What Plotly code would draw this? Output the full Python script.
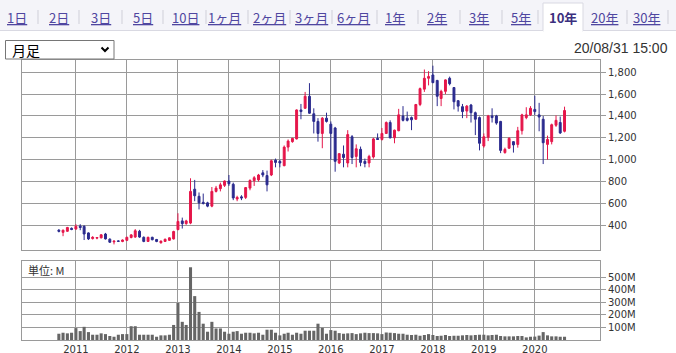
import pandas as pd
import plotly.graph_objects as go

# ---- data -------------------------------------------------------------
months = pd.date_range("2010-09-01", "2020-08-01", freq="MS")

open_ = [355, 335, 345, 372, 365, 392, 390, 330, 278, 282, 285, 320, 273, 248, 257, 252,
         262, 288, 292, 345, 290, 252, 290, 270, 240, 252, 262, 275, 360, 440, 415, 420,
         730, 665, 610, 605, 575, 710, 735, 765, 805, 775, 640, 660, 655, 740, 808, 815,
         880, 855, 860, 995, 985, 945, 1115, 1165, 1190, 1455, 1470, 1580, 1420, 1350, 1240, 1380,
         1325, 1290, 970, 1050, 970, 1210, 1030, 1095, 985, 970, 1025, 1195, 1185, 1240, 1340, 1200,
         1265, 1400, 1380, 1385, 1370, 1505, 1645, 1745, 1775, 1725, 1560, 1625, 1745, 1660, 1540, 1485,
         1445, 1500, 1430, 1385, 1125, 1205, 1400, 1400, 1350, 1065, 1105, 1165, 1140, 1265, 1385, 1410,
         1460, 1410, 1370, 1140, 1165, 1315, 1340, 1260]
high = [365, 360, 385, 380, 410, 410, 400, 335, 300, 292, 318, 330, 280, 260, 262, 270,
        295, 320, 365, 358, 298, 295, 295, 275, 260, 278, 290, 350, 510, 470, 450, 830,
        815, 700, 690, 615, 750, 760, 790, 810, 860, 790, 670, 675, 750, 820, 850, 870,
        905, 900, 1000, 1010, 1000, 1130, 1185, 1200, 1460, 1510, 1620, 1700, 1470, 1380, 1390, 1430,
        1350, 1300, 1060, 1130, 1270, 1225, 1140, 1120, 1010, 1045, 1200, 1240, 1290, 1350, 1360, 1275,
        1465, 1490, 1440, 1395, 1510, 1660, 1825, 1810, 1860, 1730, 1640, 1735, 1760, 1665, 1545, 1510,
        1500, 1510, 1440, 1395, 1240, 1410, 1470, 1410, 1355, 1110, 1205, 1170, 1300, 1420, 1480, 1490,
        1585, 1520, 1400, 1220, 1330, 1405, 1395, 1485]
low = [335, 300, 340, 355, 360, 355, 265, 265, 270, 272, 280, 270, 238, 225, 248, 245,
       255, 280, 285, 285, 245, 248, 262, 245, 232, 248, 258, 270, 355, 370, 405, 410,
       620, 545, 590, 565, 565, 700, 710, 750, 760, 630, 620, 630, 640, 720, 760, 800,
       840, 710, 850, 930, 930, 940, 1075, 1155, 1185, 1370, 1465, 1420, 1240, 1165, 1105, 1340,
       1000, 890, 960, 930, 930, 960, 930, 940, 930, 930, 1010, 1180, 1175, 1235, 1195, 1150,
       1260, 1350, 1350, 1270, 1365, 1490, 1620, 1680, 1700, 1490, 1490, 1600, 1680, 1460, 1440, 1380,
       1380, 1340, 1225, 1085, 1110, 1170, 1340, 1320, 1060, 1055, 1100, 1065, 1110, 1230, 1370, 1400,
       1410, 1260, 960, 1000, 1140, 1300, 1235, 1250]
close = [345, 355, 380, 362, 390, 380, 320, 275, 290, 288, 313, 275, 245, 255, 253, 265,
         290, 312, 350, 292, 252, 290, 268, 252, 255, 272, 285, 343, 435, 415, 440, 710,
         670, 605, 600, 575, 710, 740, 770, 805, 780, 650, 655, 650, 745, 810, 835, 860,
         860, 770, 990, 975, 970, 1115, 1170, 1195, 1455, 1440, 1580, 1425, 1350, 1240, 1380, 1350,
         1240, 985, 1055, 1020, 1230, 1020, 1100, 975, 965, 1030, 1190, 1185, 1240, 1340, 1200, 1270,
         1410, 1360, 1360, 1365, 1505, 1650, 1745, 1760, 1705, 1580, 1625, 1730, 1695, 1530, 1490, 1440,
         1490, 1430, 1370, 1150, 1210, 1400, 1385, 1335, 1085, 1095, 1195, 1135, 1265, 1410, 1410, 1470,
         1440, 1390, 1155, 1185, 1320, 1360, 1245, 1450]
volume_m = [50, 58, 53, 58, 95, 71, 105, 63, 42, 42, 53, 47, 32, 26, 42, 47,
            47, 110, 110, 42, 42, 42, 42, 26, 37, 37, 42, 120, 295, 145, 120, 580,
            350, 224, 130, 66, 145, 92, 92, 66, 50, 66, 71, 50, 58, 58, 53, 58,
            42, 82, 82, 58, 37, 50, 58, 42, 58, 50, 74, 74, 74, 130, 97, 50,
            79, 74, 55, 50, 53, 55, 47, 53, 58, 55, 55, 53, 47, 60, 58, 55,
            50, 50, 42, 40, 42, 34, 40, 47, 40, 32, 34, 40, 32, 34, 34, 37,
            40, 37, 40, 42, 42, 37, 40, 42, 32, 29, 29, 29, 32, 32, 21, 26,
            27, 35, 63, 37, 29, 29, 26, 26]

year_ticks = [f"{y}-01-01" for y in range(2011, 2021)]
year_labels = [str(y) for y in range(2011, 2021)]
price_ticks = [400, 600, 800, 1000, 1200, 1400, 1600, 1800]
vol_ticks = [100, 200, 300, 400, 500]
vol_labels = ["100M", "200M", "300M", "400M", "500M"]
tabs = ["1日", "2日", "3日", "5日", "10日", "1ヶ月", "2ヶ月", "3ヶ月", "6ヶ月",
        "1年", "2年", "3年", "5年", "10年", "20年", "30年"]
selected_tab = "10年"

# ---- geometry helpers (pixel -> paper) --------------------------------
W, H = 676, 353
L, R, T, B = 22, 76, 60, 13
PW, PH = W - L - R, H - T - B


def px(x):
    return (x - L) / PW


def py(y):
    return (H - B - y) / PH


RED = "#e5164a"
BLUE = "#2b2b8e"
GRID = "#9a9a9a"
TXT = "#333333"
FONT = "DejaVu Sans"

fig = go.Figure()
fig.add_trace(go.Candlestick(
    x=months, open=open_, high=high, low=low, close=close,
    increasing=dict(line=dict(color=RED, width=1), fillcolor=RED),
    decreasing=dict(line=dict(color=BLUE, width=1), fillcolor=BLUE),
    xaxis="x", yaxis="y", hoverinfo="skip", showlegend=False,
))
fig.add_trace(go.Bar(
    x=months, y=volume_m, marker=dict(color="#666666", line=dict(width=0)),
    width=22 * 86400000, xaxis="x2", yaxis="y2", hoverinfo="skip", showlegend=False,
))

xrange = ["2009-12-11", "2021-04-12"]
axis_common = dict(showline=True, mirror=True, linecolor=GRID, linewidth=1,
                   showgrid=True, gridcolor=GRID, gridwidth=1, zeroline=False,
                   automargin=False)

fig.update_layout(
    width=W, height=H, margin=dict(l=L, r=R, t=T, b=B, autoexpand=False),
    paper_bgcolor="white", plot_bgcolor="white",
    font=dict(family=FONT, size=10, color=TXT),
    boxgap=0.3,
    xaxis=dict(domain=[0, 1], anchor="y", type="date", range=xrange,
               tickvals=year_ticks, showticklabels=False, ticks="",
               rangeslider=dict(visible=False), **axis_common),
    yaxis=dict(domain=[py(250.3), 1], anchor="x", side="right", range=[171, 1912],
               tickvals=price_ticks, tickformat=",d", ticks="outside", ticklen=5,
               tickcolor=GRID, tickfont=dict(size=10, color=TXT), **axis_common),
    xaxis2=dict(domain=[0, 1], anchor="y2", type="date", range=xrange, matches="x",
                tickvals=year_ticks, ticktext=year_labels, ticks="",
                tickfont=dict(size=10, color=TXT), **axis_common),
    yaxis2=dict(domain=[0, py(261)], anchor="x2", side="right", range=[0, 630],
                tickvals=vol_ticks, ticktext=vol_labels, ticks="outside", ticklen=5,
                tickcolor=GRID, tickfont=dict(size=10, color=TXT), **axis_common),
)

shapes = []
annotations = []
# tab bar
shapes.append(dict(type="rect", xref="paper", yref="paper", x0=px(0), x1=px(W), y0=py(0), y1=py(30.5),
                   fillcolor="#f4f4f9", line=dict(width=0), layer="below"))
shapes.append(dict(type="line", xref="paper", yref="paper", x0=px(0), x1=px(W), y0=py(30.5), y1=py(30.5),
                   line=dict(color="#d9d9e2", width=1)))
# selected tab
shapes.append(dict(type="rect", xref="paper", yref="paper", x0=px(543), x1=px(583), y0=py(3), y1=py(31),
                   fillcolor="white", line=dict(color="#d9d9e2", width=1)))
shapes.append(dict(type="line", xref="paper", yref="paper", x0=px(543.5), x1=px(582.5), y0=py(31), y1=py(31),
                   line=dict(color="white", width=2)))
tab_centers = [17, 59, 101, 143, 185, 224, 269, 311, 353, 395, 437, 479, 521, 563, 604, 646]
seps = [38, 79, 122, 163, 206, 248, 290, 332, 377, 418, 460, 502, 538, 627, 668]
for s in seps:
    shapes.append(dict(type="line", xref="paper", yref="paper", x0=px(s), x1=px(s), y0=py(10), y1=py(24),
                       line=dict(color="#cfcfd8", width=1)))
for name, cx in zip(tabs, tab_centers):
    if name == selected_tab:
        txt, col = f"<b>{name}</b>", "#3b2f7e"
    else:
        txt, col = f"<u>{name}</u>", "#4f46a0"
    annotations.append(dict(text=txt, x=px(cx), y=py(17), xref="paper", yref="paper",
                            xanchor="center", yanchor="middle", showarrow=False,
                            font=dict(family="Noto Sans CJK JP", size=13, color=col)))
# dropdown
shapes.append(dict(type="rect", xref="paper", yref="paper", x0=px(5.5), x1=px(114), y0=py(40.5), y1=py(59),
                   fillcolor="white", line=dict(color="#767676", width=1)))
shapes.append(dict(type="path", xref="paper", yref="paper",
                   path=f"M {px(101.5)},{py(47.5)} L {px(105)},{py(51)} L {px(108.5)},{py(47.5)}",
                   line=dict(color="black", width=2)))
annotations.append(dict(text="月足", x=px(10), y=py(50), xref="paper", yref="paper",
                        xanchor="left", yanchor="middle", showarrow=False,
                        font=dict(family="Noto Sans CJK JP", size=14, color="black")))
# date stamp
annotations.append(dict(text="20/08/31 15:00", x=px(670), y=py(48.5), xref="paper", yref="paper",
                        xanchor="right", yanchor="middle", showarrow=False,
                        font=dict(family="Liberation Sans", size=14, color=TXT)))
# volume unit label
annotations.append(dict(text="単位: M", x=px(26), y=py(270), xref="paper", yref="paper",
                        xanchor="left", yanchor="middle", showarrow=False,
                        font=dict(family="Noto Sans CJK JP", size=11, color=TXT)))

fig.update_layout(shapes=shapes, annotations=annotations)
fig.write_html("out.html")
